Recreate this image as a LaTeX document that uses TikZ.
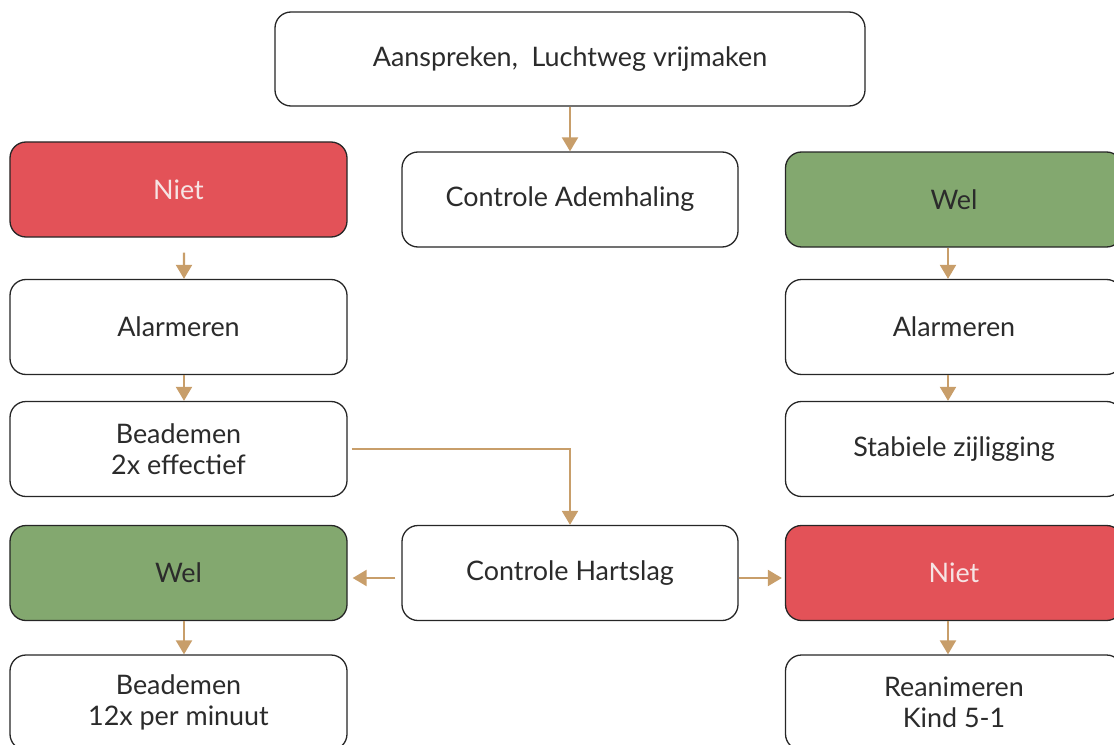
\documentclass[tikz,border=0pt]{standalone}
\usepackage{fontspec}
\setmainfont{Lato}
\usetikzlibrary{arrows.meta}
\definecolor{boxred}{HTML}{E35258}
\definecolor{boxgreen}{HTML}{83A86F}
\definecolor{arrowtan}{HTML}{C89E6A}
\definecolor{txt}{HTML}{2B2B2B}
\definecolor{edge}{HTML}{262626}
\definecolor{pinktxt}{HTML}{F6E4E4}
\tikzset{
  flowbox/.style={rectangle, rounded corners=16bp, draw=edge, line width=1.3bp,
    fill=white, text=txt, align=center, inner sep=0pt,
    font=\fontsize{27}{31}\selectfont},
  colbox/.style={flowbox, minimum width=337bp, minimum height=95bp},
  redbox/.style={colbox, fill=boxred, text=pinktxt},
  greenbox/.style={colbox, fill=boxgreen, text=txt},
  conn/.style={draw=arrowtan, line width=2.2bp, -{Triangle[width=16bp,length=14bp]}}
}
\begin{document}
\begin{tikzpicture}[x=1bp,y=-1bp]
\useasboundingbox (0,0) rectangle (1114,745);
% top and middle column
\node[flowbox, minimum width=590bp, minimum height=94bp] (top) at (570,59) {Aanspreken,\ \ Luchtweg vrijmaken};
\node[colbox, minimum width=336bp] (ca) at (570,199.5) {Controle Ademhaling};
\node[colbox, minimum width=336bp] (ch) at (570,573) {Controle Hartslag};
% left column
\node[redbox] (nietL) at (178.5,189.5) {Niet};
\node[colbox] (alarmL) at (178.5,327) {Alarmeren};
\node[colbox] (beadL) at (178.5,449) {Beademen\\2x effectief};
\node[greenbox] (welL) at (178.5,573) {Wel};
\node[colbox] (bead12) at (178.5,702.5) {Beademen\\12x per minuut};
% right column
\node[greenbox] (welR) at (954,199.5) {Wel};
\node[colbox] (alarmR) at (954,327) {Alarmeren};
\node[colbox] (stab) at (954,449) {Stabiele zijligging};
\node[redbox] (nietR) at (954,573) {Niet};
\node[colbox] (rean) at (954,702.5) {Reanimeren\\Kind 5-1};
% connectors
\draw[conn] (top.south) -- (ca.north);
\draw[conn] ([yshift=-15bp]nietL.south -| alarmL.north) ++(5.5,0) -- ([xshift=5.5bp]alarmL.north);
\draw[conn] ([xshift=5.5bp]alarmL.south) -- ([xshift=5.5bp]beadL.north);
\draw[conn] ([xshift=5.5bp]welL.south) -- ([xshift=5.5bp]bead12.north);
\draw[conn] ([xshift=-6bp]welR.south) -- ([xshift=-6bp]alarmR.north);
\draw[conn] ([xshift=-6bp]alarmR.south) -- ([xshift=-6bp]stab.north);
\draw[conn] ([xshift=-6bp]nietR.south) -- ([xshift=-6bp]rean.north);
\draw[conn, rounded corners=0pt] ([xshift=4bp]beadL.east) -| (ch.north);
\draw[conn] ([xshift=-6bp,yshift=-5bp]ch.west) -- ([xshift=5bp,yshift=-5bp]welL.east);
\draw[conn] ([yshift=-5bp]ch.east) -- ([xshift=-3bp,yshift=-5bp]nietR.west);
\end{tikzpicture}
\end{document}
